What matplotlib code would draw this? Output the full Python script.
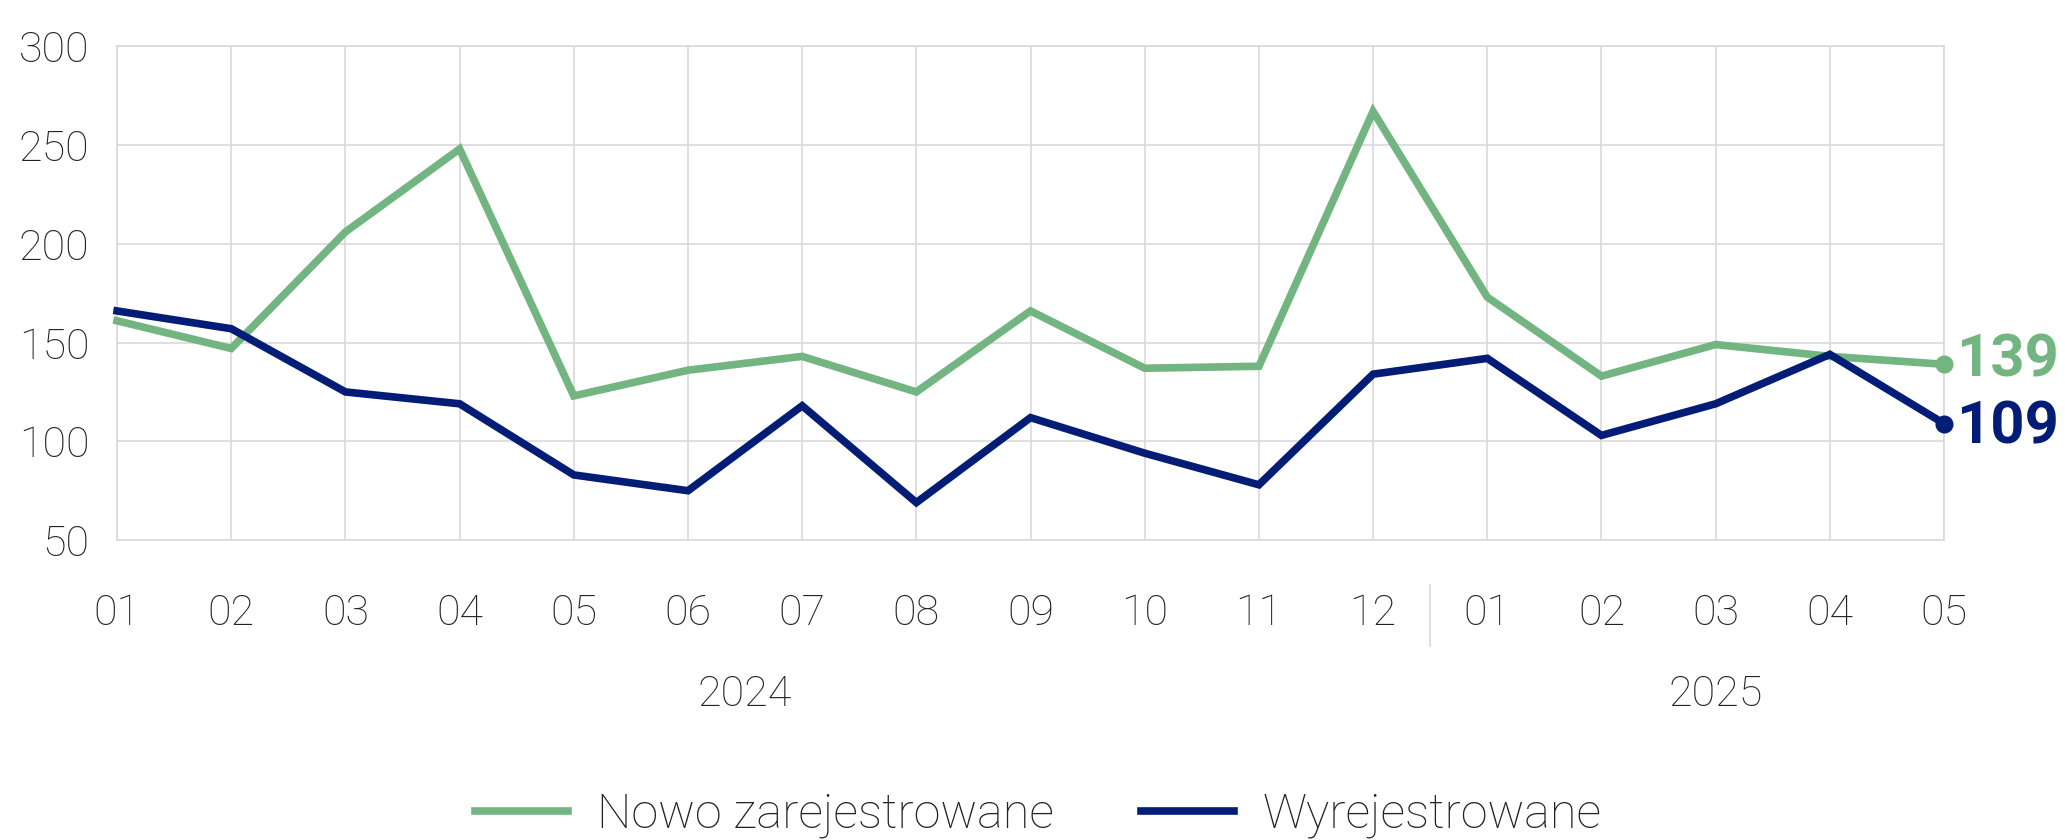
import matplotlib
matplotlib.use("Agg")
import matplotlib.pyplot as plt
import matplotlib.transforms as mtransforms

# data
months = ["01", "02", "03", "04", "05", "06", "07", "08", "09", "10", "11", "12",
          "01", "02", "03", "04", "05"]
years = ["2024", "2025"]
nowo = [161, 147, 206, 248, 123, 136, 143, 125, 166, 137, 138, 267,
        173, 133, 149, 143, 139]
wyrej = [166, 157, 125, 119, 83, 75, 118, 69, 112, 94, 78, 134,
         142, 103, 119, 144, 109]
names = ["Nowo zarejestrowane", "Wyrejestrowane"]

green = "#72B580"
navy = "#031D77"
grid_c = "#D9D9D9"
txt_c = "#222222"

plt.rcParams['font.family'] = ['Roboto', 'DejaVu Sans']

fig = plt.figure(figsize=(20.65, 8.4), dpi=100)
ax = fig.add_axes([0.0567, 0.357, 0.8847, 0.588])

x = list(range(len(months)))
ax.plot(x, nowo, color=green, lw=5.5, solid_joinstyle='miter', label=names[0], clip_on=False, zorder=3)
ax.plot(x, wyrej, color=navy, lw=5.5, solid_joinstyle='miter', label=names[1], clip_on=False, zorder=4)
ax.plot(x[-1], nowo[-1], 'o', color=green, ms=12, clip_on=False, zorder=5)
ax.plot(x[-1], wyrej[-1], 'o', color=navy, ms=12, clip_on=False, zorder=5)

# end-of-line value labels
ax.annotate(str(nowo[-1]), (x[-1], nowo[-1]), xytext=(9, 3), textcoords='offset points',
            color=green, fontsize=43, fontweight='bold', va='center', ha='left', annotation_clip=False)
ax.annotate(str(wyrej[-1]), (x[-1], wyrej[-1]), xytext=(9, -3), textcoords='offset points',
            color=navy, fontsize=43, fontweight='bold', va='center', ha='left', annotation_clip=False)

ax.set_xlim(0, len(months) - 1)
ax.set_ylim(50, 300)
ax.set_yticks([50, 100, 150, 200, 250, 300])
ax.set_xticks(x)
ax.set_xticklabels(months)
ax.grid(True, color=grid_c, lw=1.2)
ax.set_axisbelow(True)
for s in ax.spines.values():
    s.set_color(grid_c)
    s.set_linewidth(1.2)
ax.tick_params(length=0, labelsize=31, labelcolor=txt_c, pad=20)
ax.tick_params(axis='x', pad=38)
for lab in ax.get_xticklabels() + ax.get_yticklabels():
    lab.set_fontweight('light')

# year labels and separator
trans = mtransforms.blended_transform_factory(ax.transData, ax.transAxes)
ax.text(5.5, -0.313, years[0], transform=trans, ha='center', va='center',
        fontsize=31, fontweight='light', color=txt_c)
ax.text(14, -0.313, years[1], transform=trans, ha='center', va='center',
        fontsize=31, fontweight='light', color=txt_c)
ax.plot([11.5, 11.5], [-0.09, -0.215], transform=trans, color=grid_c, lw=1.2, clip_on=False)

leg = fig.legend(loc='lower center', ncol=2, frameon=False, bbox_to_anchor=(0.503, -0.05),
                 handlelength=1.9, handletextpad=0.6, columnspacing=1.8,
                 prop={'size': 35, 'weight': 'light'})
for t in leg.get_texts():
    t.set_color(txt_c)

fig.savefig("out.png", dpi=100)
